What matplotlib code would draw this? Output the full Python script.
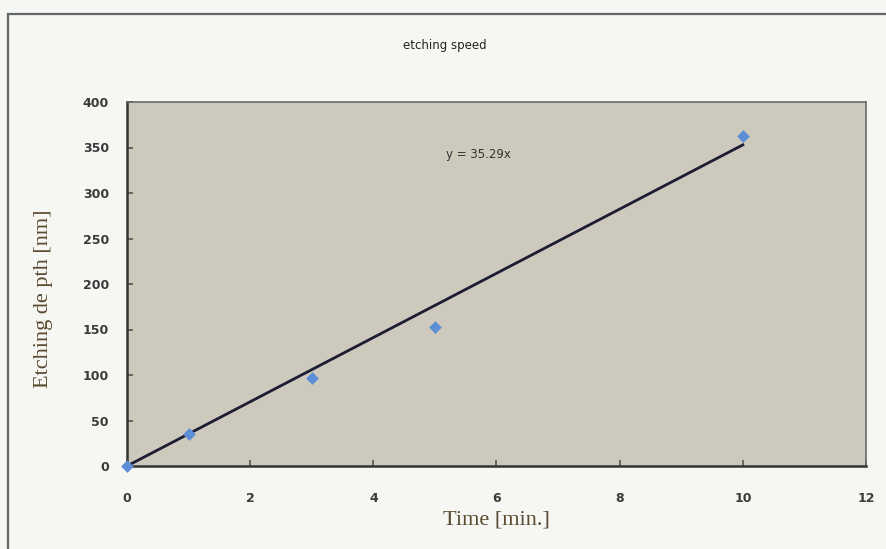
import matplotlib.pyplot as plt
from matplotlib.patches import Rectangle

# measured etching depth vs time
time_min = [0, 1, 3, 5, 10]
depth_nm = [0, 35, 97, 153, 363]
slope = 35.29  # linear fit through origin
fit_x = [0, 10]
x_ticks = [0, 2, 4, 6, 8, 10, 12]
y_ticks = [0, 50, 100, 150, 200, 250, 300, 350, 400]

fig = plt.figure(figsize=(8.87, 5.49), dpi=100)
fig.patch.set_facecolor('#f6f6f3')

# chart frame (runs off the right and bottom edges)
fig.patches.append(Rectangle((8 / 887, -0.05), 1.0, 1 - 14 / 549 + 0.05,
                             transform=fig.transFigure, fill=False,
                             edgecolor='#5f6866', linewidth=1.6))

ax = fig.add_axes([127 / 887, 1 - 466 / 549, (866 - 127) / 887, (466 - 102) / 549])
ax.set_facecolor('#cdc9bc')

ax.plot(fit_x, [slope * x for x in fit_x], color='#1c1c34', linewidth=2.0, zorder=2)
ax.scatter(time_min, depth_nm, marker='D', s=42, color='#5b8ed6', zorder=3,
           clip_on=False, linewidths=0)

ax.text(5.7, 342, 'y = 35.29x', fontsize=8.5, color='#333333', ha='center', va='center')

ax.set_xlim(0, 12)
ax.set_ylim(0, 400)
ax.set_xticks(x_ticks)
ax.set_yticks(y_ticks)
ax.tick_params(direction='in', length=4, width=1.2, colors='#555555',
               labelsize=9, labelcolor='#3a3a3a', pad=13)
ax.tick_params(axis='x', pad=19)
for lbl in ax.get_xticklabels() + ax.get_yticklabels():
    lbl.set_fontweight('bold')

for side in ['left', 'bottom']:
    ax.spines[side].set_color('#333333')
    ax.spines[side].set_linewidth(1.8)
for side in ['top', 'right']:
    ax.spines[side].set_color('#6a6a6a')
    ax.spines[side].set_linewidth(1.2)

ax.set_xlabel('Time [min.]', fontfamily='Liberation Serif', fontsize=16,
              color='#5a4a30', labelpad=4)
ax.set_ylabel('Etching de pth [nm]', fontfamily='Liberation Serif', fontsize=16,
              color='#5a4a30')
ax.yaxis.set_label_coords(-0.1, 0.46)

fig.text(445 / 887, 1 - 45 / 549, 'etching speed', fontsize=8.5, color='#222222',
         ha='center', va='center')

fig.savefig('out.png', dpi=100, facecolor=fig.get_facecolor())
